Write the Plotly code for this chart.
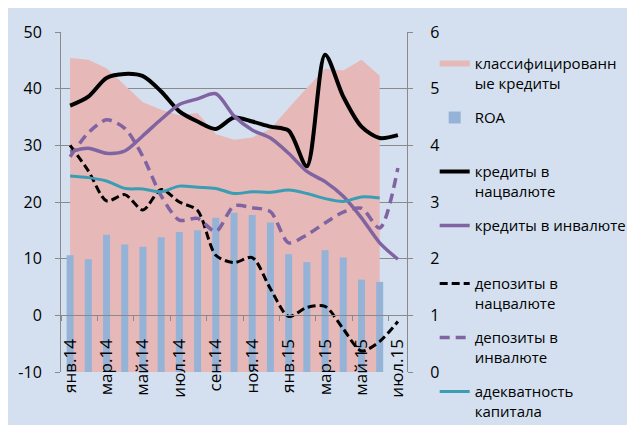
import plotly.graph_objects as go

months = ["янв.14", "фев.14", "мар.14", "апр.14", "май.14", "июн.14", "июл.14",
          "авг.14", "сен.14", "окт.14", "ноя.14", "дек.14", "янв.15", "фев.15",
          "мар.15", "апр.15", "май.15", "июн.15", "июл.15"]
tick_labels = months[::2]
left_ticks = [-10, 0, 10, 20, 30, 40, 50]
left_tick_text = ["-10", "0", "10", "20", "30", "40", "50"]

# right axis (%)
classified = [5.54, 5.51, 5.36, 5.06, 4.76, 4.63, 4.53, 4.57, 4.20, 4.10, 4.14, 4.29,
              4.66, 5.01, 5.35, 5.32, 5.51, 5.23]
roa = [2.06, 1.99, 2.42, 2.25, 2.21, 2.38, 2.47, 2.50, 2.72, 2.81, 2.77, 2.64,
       2.08, 1.94, 2.15, 2.02, 1.63, 1.59]

# left axis (%)
loans_nat = [37.0, 38.6, 41.9, 42.6, 42.2, 39.5, 36.0, 34.2, 32.9, 34.9, 34.2, 33.3,
             32.6, 26.3, 46.0, 38.6, 33.3, 31.3, 31.8]
loans_fx = [28.9, 29.5, 28.6, 29.0, 31.7, 34.6, 37.2, 38.2, 39.1, 35.2, 32.7, 31.3,
            28.6, 25.4, 23.6, 21.0, 17.2, 12.8, 9.9]
deposits_nat = [30.0, 25.5, 20.2, 21.3, 18.6, 22.2, 20.0, 18.5, 10.6, 9.3, 10.2, 4.7,
                -0.2, 1.4, 1.6, -2.4, -6.3, -4.6, -1.1]
deposits_fx = [28.0, 32.2, 34.5, 33.0, 28.0, 21.1, 16.8, 17.1, 14.8, 19.3, 19.0, 18.3,
               12.8, 14.2, 16.3, 18.2, 18.9, 15.4, 26.0]
capital = [24.6, 24.3, 23.7, 22.4, 22.3, 21.8, 22.8, 22.6, 22.4, 21.5, 21.8, 21.7,
           22.1, 21.5, 20.6, 20.1, 20.9, 20.7]

BG = "#d4e0ef"
GRID = "#8a8a8a"
FONT = "Open Sans"
NB = "\u00a0"

fig = go.Figure()
fig.add_trace(go.Scatter(x=months[:len(classified)], y=classified,
                         name="классифицированн<br>ые кредиты", mode="none",
                         fill="tozeroy", fillcolor="#e6b8b7",
                         xaxis="x", yaxis="y", legendgroup="g1", legend="legend"))
fig.add_trace(go.Bar(x=months[:len(roa)], y=roa, name="ROA<br>" + NB,
                     marker=dict(color="#95b3d7", line=dict(width=0)), width=0.385,
                     xaxis="x", yaxis="y2", legendgroup="g2", legend="legend"))

lines = [
    (loans_nat, "кредиты в<br>нацвалюте", "#000000", 4, "solid", "legend"),
    (loans_fx, "кредиты в инвалюте<br>" + NB, "#8064a2", 3.5, "solid", "legend"),
    (deposits_nat, "депозиты в<br>нацвалюте", "#000000", 3, "8px,4px", "legend2"),
    (deposits_fx, "депозиты в<br>инвалюте", "#8064a2", 3.5, "10px,6px", "legend2"),
    (capital, "адекватность<br>капитала", "#3a9db3", 3, "solid", "legend2"),
]
for i, (vals, name, color, w, dash, leg) in enumerate(lines):
    fig.add_trace(go.Scatter(x=months[:len(vals)], y=vals, name=name, mode="lines",
                             line=dict(color=color, width=w, dash=dash,
                                       shape="spline", smoothing=0.8),
                             xaxis="x", yaxis="y3", legendgroup="g%d" % (i + 3),
                             legend=leg))

legend_style = dict(xanchor="left", yanchor="top", bgcolor="rgba(0,0,0,0)",
                    font=dict(size=15, family=FONT, color="#000000"),
                    tracegroupgap=12, valign="top", itemwidth=30)

fig.update_layout(
    width=635, height=425,
    margin=dict(l=53, r=236, t=24, b=61, autoexpand=False),
    paper_bgcolor=BG, plot_bgcolor=BG,
    font=dict(family=FONT, size=16, color="#000000"),
    showlegend=True,
    bargap=0.6,
    xaxis=dict(type="category", categoryorder="array", categoryarray=months,
               range=[-0.5, len(months) - 0.5],
               anchor="free", position=1 / 6,
               tickmode="array", tickvals=tick_labels, ticktext=tick_labels,
               tickson="boundaries", ticks="outside", ticklen=5, tickcolor=GRID,
               showline=True, linecolor=GRID, linewidth=1,
               tickangle=-90, ticklabelstandoff=16,
               tickfont=dict(size=17), showgrid=False, zeroline=False),
    yaxis=dict(range=[0, 6], dtick=1, side="right", anchor="x",
               showgrid=False, zeroline=False, showline=True, linecolor=GRID,
               ticks="outside", ticklen=5, tickcolor=GRID, ticklabelstandoff=14,
               tickfont=dict(size=16)),
    yaxis2=dict(range=[0, 6], overlaying="y", visible=False),
    yaxis3=dict(range=[-10, 50], tickmode="array", tickvals=left_ticks,
                ticktext=left_tick_text, side="left", overlaying="y", anchor="x",
                showgrid=True, gridcolor=GRID, gridwidth=1, zeroline=False,
                showline=True, linecolor=GRID, ticks="outside", ticklen=5,
                tickcolor=GRID, ticklabelstandoff=10, tickfont=dict(size=16)),
    legend=dict(x=1.08, y=0.955, **legend_style),
    legend2=dict(x=1.08, y=0.308, **legend_style),
)

fig.write_html("out.html")
